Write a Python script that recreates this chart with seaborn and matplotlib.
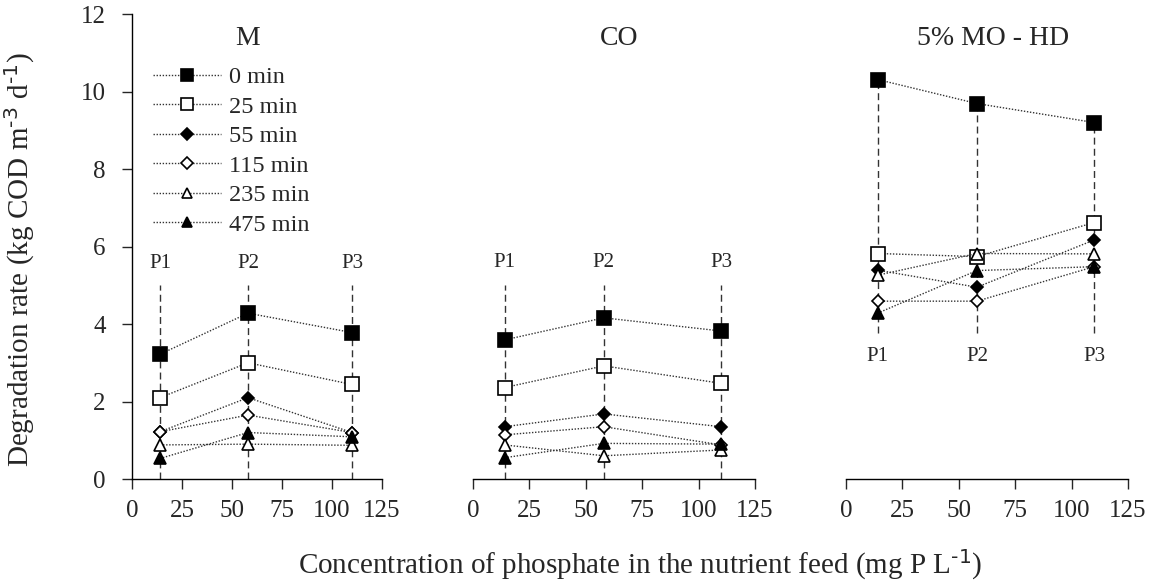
import numpy as np
import pandas as pd
import seaborn as sns
import matplotlib.pyplot as plt

# phosphate concentration of the three feeds (mg P/L)
phosphate = [14, 58, 110]
feed_labels = ['P1', 'P2', 'P3']
times = ['0 min', '25 min', '55 min', '115 min', '235 min', '475 min']
panels = ['M', 'CO', '5% MO - HD']

# degradation rate (kg COD m-3 d-1), one row per time, columns P1..P3
rates_m = [
    [3.22, 4.28, 3.78],
    [2.10, 3.00, 2.44],
    [1.22, 2.10, 1.20],
    [1.22, 1.65, 1.20],
    [0.88, 0.90, 0.87],
    [0.53, 1.20, 1.09],
]
rates_co = [
    [3.59, 4.16, 3.82],
    [2.36, 2.92, 2.47],
    [1.35, 1.68, 1.35],
    [1.14, 1.35, 0.88],
    [0.88, 0.60, 0.75],
    [0.55, 0.92, 0.90],
]
rates_mo = [
    [10.31, 9.69, 9.20],
    [5.82, 5.74, 6.62],
    [5.39, 4.95, 6.17],
    [4.59, 4.59, 5.48],
    [5.26, 5.82, 5.81],
    [4.28, 5.38, 5.48],
]
all_rates = [rates_m, rates_co, rates_mo]

# marker style per time: (marker, filled)
marker_styles = [('s', True), ('s', False), ('D', True), ('D', False), ('^', False), ('^', True)]
marker_sizes = {'s': 10, 'D': 6.6, '^': 9}

rows = []
for panel, rates in zip(panels, all_rates):
    for t, vals in zip(times, rates):
        for x, v in zip(phosphate, vals):
            rows.append({'panel': panel, 'time': t, 'phosphate': x, 'rate': v})
df = pd.DataFrame(rows)

sns.set_style('ticks')
plt.rcParams['font.family'] = ['Liberation Serif', 'DejaVu Serif']
plt.rcParams['mathtext.default'] = 'regular'

fig = plt.figure(figsize=(11.5, 5.8), dpi=100)
bottom, height = 0.1741, 0.8017
ax_pos = [(0.1148, 0.2174), (0.4113, 0.2452), (0.7357, 0.2452)]
axes = [fig.add_axes([l, bottom, w, height]) for l, w in ax_pos]

title_x = [57.5, 65, 65]
p_label_y = [5.55, 5.6, 3.15]

for i, (ax, panel) in enumerate(zip(axes, panels)):
    sub = df[df['panel'] == panel]

    # guide lines at each feed
    if i < 2:
        ax.vlines(phosphate, 0, 5.0, colors='#333333', linestyles=(0, (5, 3)), linewidth=1, zorder=1)
    else:
        tops = sub.groupby('phosphate')['rate'].max().values
        ax.vlines(phosphate, 3.77, tops, colors='#333333', linestyles=(0, (5, 3)), linewidth=1, zorder=1)

    for t, (mk, filled) in zip(times, marker_styles):
        d = sub[sub['time'] == t]
        sns.lineplot(data=d, x='phosphate', y='rate', ax=ax, errorbar=None, legend=False,
                     color='#333333', linestyle=(0, (1, 1.2)), linewidth=1,
                     marker=mk, markersize=marker_sizes[mk],
                     markerfacecolor='black' if filled else 'white',
                     markeredgecolor='black', markeredgewidth=1.2, label=t, zorder=3)

    for x, lab in zip(phosphate, feed_labels):
        ax.text(x, p_label_y[i], lab, ha='center', va='center', fontsize=15)
    ax.text(title_x[i], 11.38, panel, ha='center', va='center', fontsize=20)

    ax.set_xlim(0, 125)
    ax.set_ylim(0, 12)
    ax.set_xticks(np.arange(0, 126, 25))
    ax.set_xlabel('')
    ax.set_ylabel('')
    ax.tick_params(labelsize=18, length=7, width=1, direction='out')
    ax.tick_params(axis='x', pad=8)
    ax.tick_params(axis='y', pad=12)
    for s in ['top', 'right']:
        ax.spines[s].set_visible(False)
    for s in ax.spines.values():
        s.set_linewidth(1)
        s.set_color('black')
    if i > 0:
        ax.spines['left'].set_visible(False)
        ax.tick_params(axis='y', left=False, labelleft=False)

axes[0].set_yticks(np.arange(0, 13, 2))

leg = axes[0].legend(loc='upper left', bbox_to_anchor=(0.083, 0.888), frameon=False,
                     fontsize=17.5, handlelength=2.8, handletextpad=0.35,
                     labelspacing=0.31, markerscale=0.85, borderpad=0, borderaxespad=0)

fig.text(20 / 1150, (580 - 260) / 580, r'Degradation rate (kg COD m$^{\text{-3}}$ d$^{\text{-1}}$)',
         rotation=90, ha='center', va='center', fontsize=21)
fig.text(0.5565, 0.026, r'Concentration of phosphate in the nutrient feed (mg P L$^{\text{-1}}$)',
         ha='center', va='center', fontsize=21)

fig.savefig('out.png', dpi=100)
